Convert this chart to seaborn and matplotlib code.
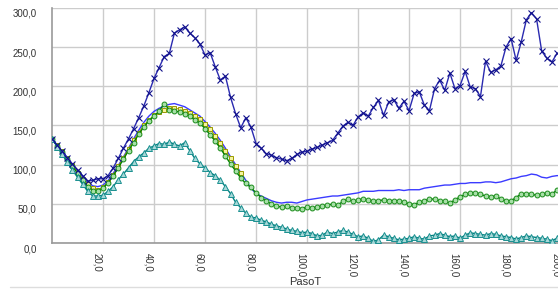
import numpy as np
import pandas as pd
import matplotlib
matplotlib.use("Agg")
import matplotlib.pyplot as plt
import matplotlib.transforms as mtransforms
from matplotlib.lines import Line2D
import seaborn as sns

# ---- data (step 2 in PasoT) ----
paso = list(range(0, 202, 2))
paso_sq = list(range(0, 76, 2))

serie_x = [133, 125, 117, 109, 101, 93, 86, 79, 80, 82, 82, 86, 96, 108, 121, 133, 146, 160, 175, 192,
           210, 224, 238, 242, 268, 272, 276, 268, 262, 254, 240, 243, 225, 208, 213, 186, 165, 147, 160, 148,
           127, 121, 114, 112, 109, 107, 105, 108, 113, 116, 117, 120, 122, 125, 128, 131, 140, 149, 154, 150,
           161, 166, 162, 173, 182, 163, 180, 183, 172, 181, 169, 191, 193, 176, 169, 197, 208, 195, 217, 197,
           201, 219, 199, 197, 187, 232, 218, 221, 226, 250, 261, 233, 257, 285, 294, 286, 245, 236, 231, 242, 240]

serie_linea = [133, 125, 117, 109, 100, 92, 84, 77, 73, 72, 74, 80, 89, 99, 110, 121, 133, 144, 154, 162,
               168, 172, 175, 177, 178, 176, 174, 170, 166, 162, 155, 148, 140, 131, 121, 110, 100, 90, 80, 70,
               63, 60, 57, 54, 52, 51, 52, 52, 51, 53, 55, 56, 57, 58, 59, 60, 60, 61, 62, 63,
               64, 66, 66, 66, 67, 67, 67, 67, 68, 67, 68, 68, 68, 70, 71, 72, 73, 74, 74, 75,
               76, 76, 77, 77, 77, 78, 78, 77, 78, 80, 82, 83, 85, 86, 88, 87, 84, 83, 85, 86, 86]

serie_circ = [133, 124, 116, 107, 98, 89, 80, 72, 67, 66, 70, 77, 86, 96, 107, 118, 128, 139, 148, 156,
              162, 168, 178, 170, 169, 167, 165, 162, 157, 153, 146, 138, 130, 121, 111, 101, 92, 83, 76, 71,
              64, 58, 54, 50, 47, 46, 47, 45, 45, 44, 46, 45, 46, 47, 48, 50, 48, 53, 56, 53,
              55, 56, 55, 53, 54, 55, 54, 54, 54, 52, 50, 49, 52, 54, 56, 56, 54, 53, 51, 55,
              59, 62, 64, 64, 62, 60, 59, 60, 56, 54, 54, 58, 63, 63, 62, 61, 62, 64, 62, 68, 67]

serie_cuad = [133, 125, 117, 108, 99, 90, 82, 75, 70, 68, 71, 78, 87, 98, 109, 120, 131, 141, 150, 157,
              163, 167, 170, 172, 172, 171, 169, 166, 162, 158, 152, 145, 137, 128, 118, 108, 98, 89]

serie_tri = [133, 123, 113, 103, 93, 84, 75, 66, 60, 60, 61, 66, 72, 81, 88, 96, 104, 110, 115, 121,
             124, 127, 126, 129, 126, 124, 128, 118, 108, 101, 96, 90, 86, 80, 72, 63, 52, 45, 38, 33,
             32, 29, 27, 24, 22, 20, 18, 16, 15, 13, 14, 12, 9, 10, 14, 12, 14, 16, 14, 11,
             8, 9, 6, 2, 4, 10, 8, 6, 4, 5, 6, 8, 6, 5, 9, 10, 12, 10, 8, 9,
             6, 10, 13, 12, 11, 10, 12, 11, 9, 8, 7, 5, 7, 9, 8, 7, 6, 5, 3, 6, 7]

x_ticks = [20, 40, 60, 80, 100, 120, 140, 160, 180]
y_ticks = [0, 50, 100, 150, 200, 250, 300]
x_label = "PasoT"

# ---- figure ----
sns.set_style("white")
plt.rcParams['font.family'] = ['Liberation Sans', 'DejaVu Sans']

fig = plt.figure(figsize=(5.58, 2.89), dpi=100)
ax = fig.add_axes([52/558, 1-243/289, 506/558, 235/289])

sns.lineplot(x=paso, y=serie_linea, ax=ax, color="#3b3bff", linewidth=1.0,
             estimator=None, zorder=2)
sns.lineplot(x=paso_sq, y=serie_cuad, ax=ax, color="#a0a000", linewidth=0.8,
             marker="s", markersize=3.5, markerfacecolor="#f4f4a0", markeredgecolor="#9a9a00",
             markeredgewidth=0.7, estimator=None, zorder=3)
sns.lineplot(x=paso, y=serie_circ, ax=ax, color="#008000", linewidth=1.0,
             marker="o", markersize=3.5, markerfacecolor="#a8e0a8", markeredgecolor="#1a8c1a",
             markeredgewidth=0.7, estimator=None, zorder=4)
sns.lineplot(x=paso, y=serie_tri, ax=ax, color="#008080", linewidth=1.0,
             marker="^", markersize=4, markerfacecolor="#a8d8d8", markeredgecolor="#1a9090",
             markeredgewidth=0.7, estimator=None, zorder=4)
sns.lineplot(x=paso, y=serie_x, ax=ax, color="#2a2ab0", linewidth=1.0,
             marker="x", markersize=4, markeredgecolor="#10108a",
             markeredgewidth=0.8, estimator=None, zorder=5)

ax.set_xlim(0, 198.4)
ax.set_ylim(0, 300)
ax.tick_params(axis="both", length=0)
ax.tick_params(axis="x", pad=7)
ax.tick_params(axis="y", pad=11)
ax.set_xticks(x_ticks)
ax.set_yticks(y_ticks)
ax.set_xticklabels([f"{v:.1f}".replace(".", ",") for v in x_ticks], rotation=-90,
                   fontsize=7, color="#333333")
ax.set_yticklabels([f"{v:.1f}".replace(".", ",") for v in y_ticks], fontsize=7, color="#333333")
ax.set_ylabel("")
ax.set_xlabel(x_label, fontsize=8, color="#333333")
ax.xaxis.set_label_coords(0.5, -0.145)

fig.canvas.draw()
# tick label offsets similar to reference
dx = mtransforms.ScaledTranslation(-6/100, 0, fig.dpi_scale_trans)
for lab in ax.get_xticklabels():
    lab.set_transform(lab.get_transform() + dx)
dy = mtransforms.ScaledTranslation(0, -5/100, fig.dpi_scale_trans)
for lab in ax.get_yticklabels():
    lab.set_transform(lab.get_transform() + dy)

# extra, partly clipped label for 200
ax.text(200, 0, "200,0", rotation=-90, fontsize=7, color="#333333",
        ha="center", va="top", clip_on=False,
        transform=mtransforms.blended_transform_factory(ax.transData, ax.transAxes)
        + mtransforms.ScaledTranslation(-6/100, -10/100, fig.dpi_scale_trans))

ax.grid(True, color="#cccccc", linewidth=1.0)
ax.set_axisbelow(True)
for s in ["top", "right"]:
    ax.spines[s].set_visible(False)
ax.spines["left"].set_color("#999999")
ax.spines["bottom"].set_color("#999999")
ax.spines["left"].set_linewidth(1.2)
ax.spines["bottom"].set_linewidth(1.2)

fig.add_artist(Line2D([10/558, 1.0], [1-287/289, 1-287/289], color="#dddddd",
                      linewidth=1.0, transform=fig.transFigure))

fig.savefig("out.png", dpi=100)
